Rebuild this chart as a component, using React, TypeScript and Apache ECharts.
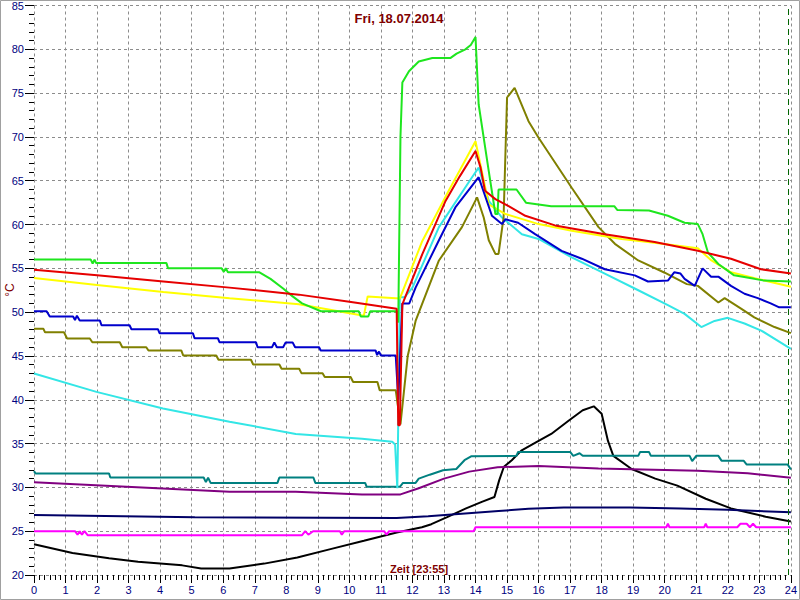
import React, { useEffect, useRef } from "react";
import * as echarts from "echarts";

type Pt = [number, number];

const titleText = "Fri, 18.07.2014";
const xLabelText = "Zeit [23:55]";
const yUnitText = "°C";
const nowHour = 23 + 55 / 60;

const greenData: Pt[] = [
  [0, 56.0], [1.8, 56.0], [1.86, 55.55], [1.92, 56.0], [1.97, 55.6], [4.2, 55.6], [4.25, 55.0], [5.95, 55.0], [6.02, 54.6], [6.08, 55.0], [6.15, 54.55],
  [7.15, 54.55], [7.5, 53.8], [7.9, 52.7], [8.2, 51.8], [8.5, 51.0], [9.1, 50.1], [10.3, 50.1], [10.36, 49.5], [10.6, 49.5],
  [10.66, 50.1], [11.5, 50.1], [11.55, 48.8], [11.62, 70.0], [11.68, 76.2], [11.89, 77.5], [12.2, 78.6], [12.63, 79.0],
  [13.2, 79.0], [13.4, 79.5], [13.68, 80.0], [13.85, 80.5], [14.0, 81.4], [14.1, 73.7], [14.42, 66.1], [14.63, 61.2], [14.7, 61.2],
  [14.73, 64.0], [15.3, 64.0], [15.6, 62.5], [16.4, 62.1], [18.4, 62.1], [18.5, 61.65], [19.5, 61.6], [20.1, 61.0],
  [20.63, 60.2], [21.05, 60.05], [21.2, 58.9], [21.37, 56.8], [21.7, 55.5], [22.2, 54.2], [22.84, 53.8], [23.15, 53.6], [24, 53.5],
];

const redData: Pt[] = [
  [0, 54.85], [2, 54.2], [4.1, 53.5], [6.2, 52.8], [8.4, 52.0], [10, 51.2], [11.5, 50.4], [11.55, 37.1], [11.6, 37.1],
  [11.68, 50.9], [12.31, 56.6], [13.05, 62.7], [13.5, 65.5], [14.0, 68.4], [14.16, 66.5], [14.3, 63.85], [14.63, 62.9],
  [15.05, 62.1], [15.58, 61.0], [16.52, 59.9], [18.1, 58.9], [19.68, 58.0], [21.05, 57.0], [22.1, 56.1], [23.05, 54.9], [24, 54.4],
];

const yellowData: Pt[] = [
  [0, 53.9], [2, 53.1], [4.1, 52.3], [6.2, 51.6], [8.4, 50.9], [10.46, 49.6], [10.58, 51.8], [11.6, 51.55], [12.31, 58.1],
  [13.15, 63.85], [14.0, 69.5], [14.2, 66.1], [14.42, 62.3], [14.95, 61.2], [16.0, 60.05], [17.05, 59.3], [18.63, 58.35],
  [19.47, 58.0], [21.05, 57.3], [21.48, 55.9], [22.1, 54.55], [22.95, 53.8], [24, 52.9],
];

const blueData: Pt[] = [
  [0, 50.1], [0.4, 50.1], [0.5, 49.5], [1.24, 49.5], [1.3, 49.1], [1.36, 49.6], [1.45, 49.04], [2.09, 49.04], [2.14, 48.51],
  [3.03, 48.51], [3.09, 48.05], [3.93, 48.05], [3.98, 47.6], [5.04, 47.6], [5.09, 47.03], [5.83, 47.03], [5.88, 46.57],
  [7.04, 46.57], [7.09, 46.0], [7.55, 46.0], [7.62, 46.55], [7.7, 46.0], [7.9, 46.0], [7.98, 46.55], [8.2, 46.55], [8.28, 46.0],
  [9.04, 46.0], [9.09, 45.63], [10.83, 45.63], [10.88, 45.1], [10.94, 45.5], [11.0, 45.06], [11.47, 45.06], [11.55, 40.0],
  [11.62, 46.0], [11.68, 51.0], [11.9, 51.0], [12.1, 52.8], [12.84, 58.2], [13.36, 61.95], [14.1, 65.4], [14.52, 61.0],
  [14.84, 60.05], [14.95, 60.6], [15.35, 60.2], [15.89, 58.9], [16.73, 57.0], [17.37, 56.1], [18.1, 54.9], [19.05, 54.2],
  [19.47, 53.5], [20.1, 53.6], [20.3, 54.55], [20.5, 54.4], [20.63, 53.8], [20.95, 53.0], [21.2, 55.0], [21.47, 54.05],
  [21.7, 54.05], [22.1, 53.0], [22.53, 52.1], [22.95, 51.6], [23.36, 51.0], [23.63, 50.55], [24, 50.55],
];

const oliveData: Pt[] = [
  [0, 48.1], [0.3, 48.1], [0.35, 47.7], [0.95, 47.7], [1.05, 47.0], [1.77, 47.0], [1.85, 46.57], [2.72, 46.57], [2.8, 46.0],
  [3.56, 46.0], [3.63, 45.63], [4.67, 45.63], [4.73, 45.06], [5.78, 45.06], [5.85, 44.57], [6.88, 44.57], [6.95, 44.03],
  [7.78, 44.03], [7.85, 43.54], [8.41, 43.54], [8.48, 43.04], [9.15, 43.04], [9.22, 42.6], [10.04, 42.6], [10.12, 42.03],
  [10.89, 42.03], [10.96, 41.1], [11.47, 41.1], [11.55, 39.0], [11.62, 37.2], [11.85, 45.0], [12.1, 49.0], [12.84, 55.9],
  [13.57, 59.7], [14.05, 63.1], [14.26, 60.8], [14.42, 58.2], [14.63, 56.65], [14.73, 56.65], [14.89, 60.8], [15.0, 74.5],
  [15.24, 75.6], [15.68, 71.8], [16.0, 69.9], [17.05, 64.2], [17.9, 59.7], [18.42, 57.8], [19.16, 55.9], [20.0, 54.5],
  [20.7, 53.2], [21.05, 53.0], [21.7, 51.1], [21.9, 51.6], [22.42, 50.4], [22.84, 49.4], [23.48, 48.3], [24, 47.6],
];

const cyanData: Pt[] = [
  [0, 43.0], [1.98, 40.9], [4.09, 39.0], [6.2, 37.5], [8.3, 36.1], [10.4, 35.55], [11.36, 35.2], [11.45, 34.9], [11.52, 29.9],
  [11.56, 40.0], [11.6, 51.7], [11.75, 51.7], [12.0, 52.8], [12.84, 59.7], [13.89, 65.4], [14.1, 66.5], [14.42, 62.7],
  [14.84, 60.8], [15.47, 58.9], [16.0, 58.35], [17.05, 56.25], [18.1, 54.4], [19.16, 52.5], [20.1, 50.8], [20.63, 49.8],
  [21.16, 48.3], [21.58, 49.0], [22.0, 49.35], [22.53, 48.7], [23.06, 47.9], [24, 45.8],
];

const tealData: Pt[] = [
  [0, 31.85], [0.05, 31.58], [2.38, 31.58], [2.42, 31.13], [5.38, 31.13], [5.45, 30.6], [5.52, 31.1], [5.6, 30.51],
  [7.72, 30.51], [7.78, 31.13], [8.86, 31.13], [8.92, 30.51], [10.5, 30.51], [10.55, 30.06], [11.6, 30.06], [11.7, 30.51],
  [12.1, 30.51], [12.2, 31.0], [12.55, 31.45], [12.97, 31.95], [13.39, 32.1], [13.65, 33.1], [13.86, 33.55], [15.3, 33.6],
  [15.35, 34.05], [17.0, 34.05], [17.1, 33.6], [17.3, 33.9], [17.4, 33.6], [19.16, 33.6], [19.22, 34.05], [19.5, 34.05],
  [19.56, 33.6], [20.79, 33.6], [20.87, 33.0], [21.0, 33.6], [21.7, 33.6], [21.8, 33.05], [22.5, 33.05], [22.6, 32.6],
  [23.9, 32.6], [24, 32.05],
];

const purpleData: Pt[] = [
  [0, 30.6], [3.1, 30.05], [6.2, 29.5], [8.3, 29.5], [10.4, 29.2], [11.62, 29.2], [12.2, 29.9], [13.0, 31.0], [13.8, 31.8],
  [14.7, 32.3], [16.0, 32.45], [17.9, 32.15], [21.05, 31.9], [22.63, 31.6], [24, 31.1],
];

const navyData: Pt[] = [
  [0, 26.85], [5.1, 26.6], [11.5, 26.5], [12.5, 26.7], [14.73, 27.3], [15.68, 27.55], [16.8, 27.7], [18.9, 27.7],
  [20.5, 27.6], [22, 27.45], [24, 27.15],
];

const magentaData: Pt[] = [
  [0, 25.0], [1.3, 25.0], [1.38, 24.6], [1.45, 25.0], [1.52, 24.6], [1.6, 25.0], [1.7, 24.55], [8.5, 24.55], [8.6, 25.0],
  [8.7, 24.6], [8.85, 25.0], [9.7, 25.0], [9.76, 24.6], [9.84, 25.0], [11.1, 25.0], [11.18, 24.6], [11.26, 25.0],
  [13.94, 25.0], [14.0, 25.45], [20.05, 25.45], [20.1, 25.85], [20.15, 25.45], [21.25, 25.45], [21.3, 25.85], [21.35, 25.45],
  [22.3, 25.45], [22.4, 25.85], [22.6, 25.85], [22.7, 25.45], [22.8, 25.85], [22.9, 25.45], [24, 25.45],
];

const blackData: Pt[] = [
  [0, 23.5], [1.22, 22.5], [2.38, 21.9], [3.3, 21.5], [4.7, 21.1], [5.3, 20.75], [6.2, 20.75], [7.3, 21.3], [8.35, 22.0],
  [9.4, 22.95], [10.46, 23.9], [11.5, 24.85], [12.3, 25.45], [12.6, 25.8], [13.1, 26.6], [13.7, 27.6], [14.2, 28.35],
  [14.6, 28.9], [14.75, 30.8], [14.9, 32.35], [15.15, 33.1], [15.45, 34.2], [16.0, 35.3], [16.4, 36.1], [16.95, 37.6],
  [17.4, 38.8], [17.75, 39.25], [18.0, 38.4], [18.2, 35.3], [18.37, 33.6], [18.95, 32.1], [19.7, 31.0], [20.4, 30.2],
  [21.3, 28.7], [22.1, 27.6], [23.2, 26.65], [24, 26.1],
];

const seriesList: { name: string; color: string; data: Pt[] }[] = [
  { name: "black", color: "#000000", data: blackData },
  { name: "navy", color: "#000066", data: navyData },
  { name: "magenta", color: "#ff00ff", data: magentaData },
  { name: "purple", color: "#800080", data: purpleData },
  { name: "teal", color: "#008080", data: tealData },
  { name: "cyan", color: "#33e6e6", data: cyanData },
  { name: "olive", color: "#808000", data: oliveData },
  { name: "yellow", color: "#ffff00", data: yellowData },
  { name: "green", color: "#1ee61e", data: greenData },
  { name: "blue", color: "#0000cc", data: blueData },
  { name: "red", color: "#e60000", data: redData },
];

const FONT = "'Liberation Sans', Arial, sans-serif";

export default function App() {
  const ref = useRef<HTMLDivElement>(null);
  useEffect(() => {
    if (!ref.current) return;
    const chart = echarts.init(ref.current, undefined, { renderer: "svg" });
    const series: any[] = seriesList.map((s, i) => ({
      type: "line",
      name: s.name,
      data: s.data,
      showSymbol: false,
      symbol: "none",
      lineStyle: { color: s.color, width: 2 },
      itemStyle: { color: s.color },
      z: 2 + i,
    }));
    series[series.length - 1].markLine = {
      silent: true,
      symbol: "none",
      label: { show: false },
      lineStyle: { color: "#006400", type: [6, 4], width: 1 },
      data: [{ xAxis: nowHour }],
    };
    chart.setOption({
      animation: false,
      backgroundColor: "#ffffff",
      grid: { left: 34, right: 6, top: 4, bottom: 25, containLabel: false },
      xAxis: {
        type: "value",
        min: 0,
        max: 24,
        interval: 1,
        axisLine: { show: false },
        axisTick: { show: true, length: 8, lineStyle: { color: "#000000" } },
        minorTick: { show: true, splitNumber: 6, length: 5, lineStyle: { color: "#000000" } },
        splitLine: { show: true, lineStyle: { color: "#8c8c8c", type: [3, 3], width: 1 } },
        axisLabel: { color: "#000080", fontSize: 11, fontFamily: FONT, margin: 9, showMaxLabel: true },
      },
      yAxis: {
        type: "value",
        min: 20,
        max: 85,
        interval: 5,
        axisLine: { show: false },
        axisTick: { show: true, length: 9, lineStyle: { color: "#000000" } },
        minorTick: { show: true, splitNumber: 5, length: 5, lineStyle: { color: "#000000" } },
        splitLine: { show: true, lineStyle: { color: "#8c8c8c", type: [3, 3], width: 1 } },
        axisLabel: { color: "#000080", fontSize: 11, fontFamily: FONT, margin: 10 },
      },
      graphic: [
        {
          type: "rect",
          shape: { x: 0.5, y: 0.5, width: 799, height: 599 },
          style: { fill: "none", stroke: "#a0a0a0", lineWidth: 1 },
          silent: true,
          z: 100,
        },
        {
          type: "text",
          x: 399,
          y: 18,
          style: {
            text: titleText,
            fill: "#800000",
            font: `bold 13px ${FONT}`,
            textAlign: "center",
            textVerticalAlign: "middle",
          },
          z: 100,
        },
        {
          type: "text",
          x: 390,
          y: 569,
          style: {
            text: xLabelText,
            fill: "#800000",
            font: `bold 11px ${FONT}`,
            textAlign: "left",
            textVerticalAlign: "middle",
          },
          z: 100,
        },
        {
          type: "text",
          x: 10,
          y: 290,
          rotation: Math.PI / 2,
          style: {
            text: yUnitText,
            fill: "#800000",
            font: `12px ${FONT}`,
            textAlign: "center",
            textVerticalAlign: "middle",
          },
          z: 100,
        },
      ],
      series,
    });
    return () => chart.dispose();
  }, []);
  return (
    <div
      ref={ref}
      style={{ position: "fixed", left: 0, top: 0, width: 800, height: 600 }}
    />
  );
}
